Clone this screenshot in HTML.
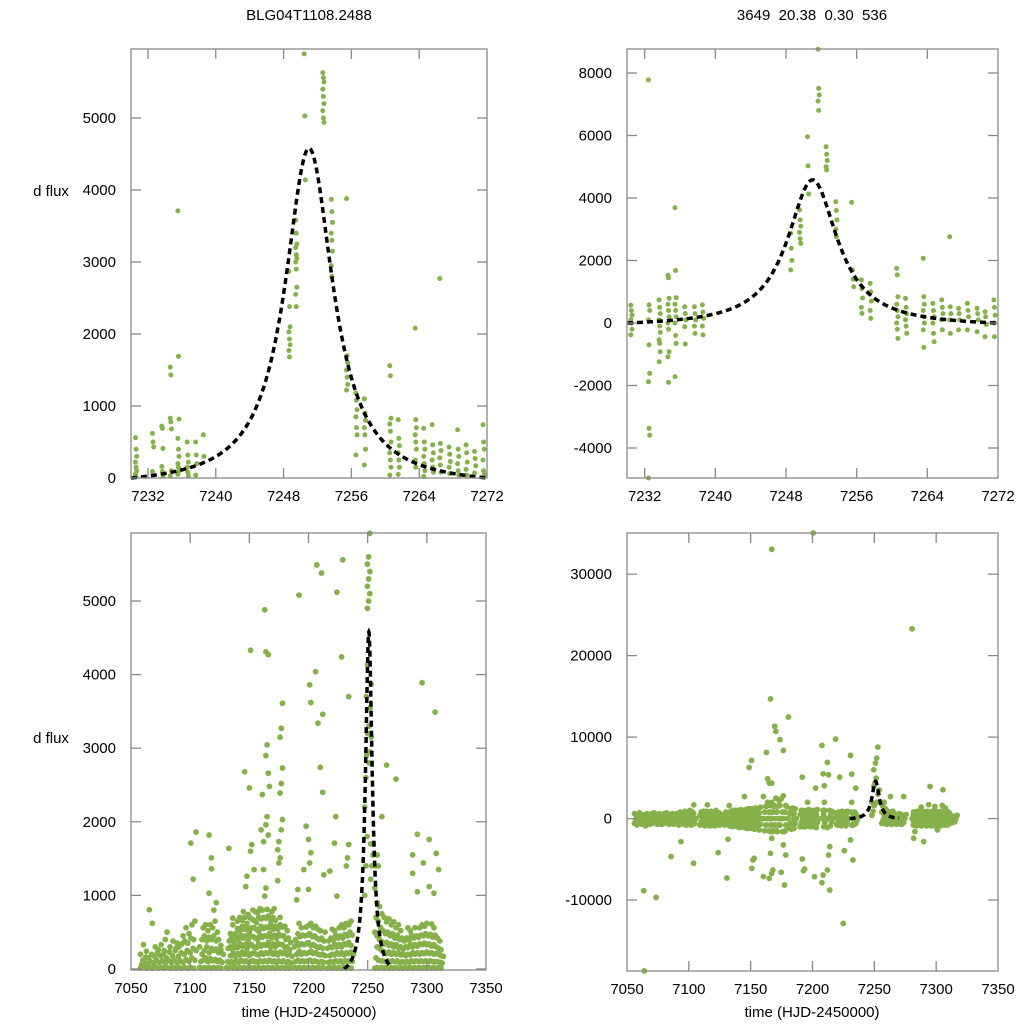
<!DOCTYPE html>
<html><head><meta charset="utf-8"><style>
html,body{margin:0;padding:0;background:#fff;}
svg{display:block;font-family:"Liberation Sans",sans-serif;}
</style></head><body>
<svg id="chart" width="1024" height="1024" viewBox="0 0 1024 1024" xmlns="http://www.w3.org/2000/svg">
<rect width="1024" height="1024" fill="#fff"/>
<text x="309" y="20" font-size="15" text-anchor="middle">BLG04T1108.2488</text>
<text x="812" y="20" font-size="15" text-anchor="middle" xml:space="preserve">3649  20.38  0.30  536</text>
<text x="51" y="196" font-size="15" text-anchor="middle">d flux</text>
<text x="51" y="743" font-size="15" text-anchor="middle">d flux</text>
<text x="309" y="1017" font-size="15" text-anchor="middle">time (HJD-2450000)</text>
<text x="812" y="1017" font-size="15" text-anchor="middle">time (HJD-2450000)</text>
</svg>
<script>
// ---- model parameters ----
const modelPeak = 4580;
const modelT0 = 7251;
const modelHwhm = 3.45;

// ---- top-left panel data (zoom) ----
const tlTimes = [7230.6,7232.6,7233.7,7234.7,7235.6,7236.7,7237.7,7238.6,7248.7,7249.5,7250.5,7252.7,7253.7,7255.5,7256.6,7257.6,7260.6,7261.6,7263.6,7264.6,7265.6,7266.5,7267.6,7268.6,7269.6,7270.6,7271.6];
const tlFlux = [
 [560,400,300,220,150,100,50,20],[620,500,430,90],[720,690,410,160,90,30],[830,780,680,1540,1430,100,30],
 [3710,1690,820,550,400,300,200,150,100,50],[500,320,220,150,80,30],[500,320,200,40],[600,300],
 [2870,2380,2100,2030,1930,1850,1770,1680],[3580,3400,3250,3200,3100,3050,3000,2900,2650,2550,2380],
 [5890,5030,4140],[5630,5560,5500,5400,5300,5200,5100,5000,4940],[3870,3700,3550,3400,3300,3150,2950,2800],
 [3880,1700,1600,1500,1400,1300,1220],[1180,1080,950,850,700,600,320],[1100,900,800,700,600,400,180],
 [1560,1420,830,750,650,500,350,250,150,40],[810,550,450,350,250,150,50],[2080,810,700,600,500,400,250,150],
 [690,500,400,300,200,100,20],[740,460,350,250,150,80],[2770,480,380,280,180,80],[430,330,230,150,60],
 [670,400,300,200,100,40],[460,350,220,120,40],[370,270,170,70],[740,500,400,250,100,50]
];
// ---- top-right panel data (zoom) ----
const trTimes = [7230.5,7232.5,7233.7,7234.7,7235.5,7236.6,7237.7,7238.6,7248.6,7249.6,7250.5,7251.7,7252.6,7253.7,7255.5,7255.6,7256.6,7257.6,7260.6,7261.6,7263.6,7264.7,7265.7,7266.6,7267.6,7268.6,7269.7,7270.6,7271.6];
const trFlux = [
 [570,400,250,100,0,-200,-380],[7780,580,400,100,-700,-1610,-1880,-3370,-3590,-4970],
 [740,500,300,100,-100,-300,-540,-650,-920,-1240],[1530,1450,790,600,400,200,0,-200,-920,-1080,-1900],
 [3690,1680,810,600,400,200,0,-400,-650,-1720],[520,300,100,-120,-670],[520,300,100,-100,-330],[580,350,150,-100,-380],
 [2870,2390,2000,1700],[3620,3300,3100,2900,2700,2550],[5960,5030,4130],[8760,7510,7300,7100,6800],
 [5640,5400,5200,5000,4900],[3880,3600,3300,3000,2760],[3860],[1700,1400,1160],[1380,1100,800,500,310],
 [1270,1000,700,400,150],[1750,1540,840,600,400,200,0,-200,-490],[790,500,300,100,-100,-330],
 [2070,840,600,400,200,0,-220,-780],[630,400,200,0,-330,-600],[740,500,300,100,-220],[2760,520,300,100,-330],
 [470,300,100,-220],[630,400,200,-220],[470,300,100,-280],[360,200,-50,-440],[740,500,250,0,-440]
];
// ---- bottom-left panel data (full season) ----
const blTimes = [7059,7061.5,7064,7066.5,7069,7071.5,7074,7076.5,7079,7081.5,7084,7086.5,7089,7091.5,7094,7096.5,7099,7101.5,7104,
 7109,7111,7113,7115,7117,7119,7121,7123,7125,7127,7131.7,
 7133,7135,7137,7139,7141,7143,7145,7147,7149,7151,7153,7155,7157,7159,7161,7163,7165,7167,7169,7171,7173,7175,7177,7179,7181,7183,7185,
 7189,7191,7193,7195,7197,7199,7201,7203,7205,7207,7209,7211,7213,
 7217,7219,7221,7223,7225,7227,7229,7231,7233,7235,7237,
 7248.5,7250,7250.8,7252,7253.5,
 7257,7259,7261,7263,7265,7267,7269,7271,7273,7275,7277,7279,7281,
 7283,7285,7287,7289,7291,7293,7295,7297,7299,7301,7303,7305,7307,7309,7311,7313];
const blFlux = [
 [10,60,120,200],[20,90,160,330],[10,70,150,240],[20,100,200,805],[10,80,170,620],[30,120,220,300],[10,90,180,260],
 [20,110,200,330],[10,80,150,250,400],[20,120,230,500],[10,90,180,300],[20,120,250,380],[10,80,170,280,350],
 [20,110,220,300],[10,90,200,340,450],[20,130,250,380,560],[10,100,220,350,480],[20,150,280,420,600,1220,1710],
 [10,120,250,400,650,1860],
 [20,100,200,300],[10,120,250,400,560],[20,150,300,450,600],[10,100,220,380,520,1030],[20,140,280,430,600,1360,1820],
 [10,110,250,400,560,800,1510],[20,130,270,450,650,900],[10,100,220,380,500],[20,120,260,400],[10,90,200,320],[20,100,1640],
 [10,90,180,280,380,480],[20,100,200,300,420,690],[10,80,170,260,360,480,600],[20,110,210,320,430,550],
 [10,90,190,290,400,520,650],[20,120,230,340,460,580,700],[10,100,200,310,420,540,660,780,2680],
 [20,110,220,330,450,560,700,1120,1260],[10,90,180,280,380,500,620,740],[20,100,210,320,440,560,700,1600,1690,2460,4330],
 [10,110,220,330,440,560,680,800,1350],[20,100,200,300,420,540,660,780],[10,90,190,290,400,510,630,760],
 [20,110,220,340,460,580,700,820],[10,100,200,310,430,550,680,800,1730,1890,2370],[20,110,220,330,450,570,700,990,1100,1350,4880],
 [10,100,210,320,440,560,690,810,1820,1960,2070,2660,2900,3045,4270,4310],[20,120,240,360,480,600,720,2480],
 [10,100,200,300,420,540,660,780],[20,110,220,340,460,580,700,820],[10,90,190,300,420,540,660],
 [20,110,230,350,470,600,1200,1440,1510,1620,1730],[10,100,210,330,450,570,700,1890,2030,2390,2520,2730,3150,3270,3610],
 [20,110,220,330,450,580],[10,90,190,290,400,520],[20,100,200,300,420],[10,80,170,260,360],
 [20,100,200,300,400],[10,120,240,360,480,620,940,1080],[20,100,200,320,440,560,5080],[10,110,220,340,460,1350],
 [20,100,210,330,450,570],[10,110,220,340,460,590,1940],[20,120,240,360,480,620,1080,1440,1580,1760,3860],
 [10,100,210,320,440,560,3620],[20,110,220,330,450,580],[10,100,200,310,420,540,4040,5490,3340],
 [20,90,190,290,400,520],[10,100,200,300,420,3460,2740,5380],[20,90,180,280,380,500,2400,1280],
 [10,90,180,280,380,1330],[20,100,200,300,420,540],[10,90,190,290,400,520],[20,110,220,340,460,990,1710,2070,5120],
 [10,100,200,300,420,560],[20,110,220,330,450,600],[10,90,190,300,420,560,4240,5560],[20,110,220,340,470,620],
 [10,100,210,330,450,600,1400,1510,1690],[20,110,230,360,500,650,3700],[10,100,200,320,460],
 [1000,1400,1800,2200,2600],[2900,3200,3300,3700,4130],[4900,5000,5100,5200,5300,5400,5500,5600,5920],[2800,2950,3150,3300,3550,3870],[1220,1400,1550,1700],
 [10,150,300,500,700,900,1100,1400,1550],[20,120,280,450,650,850,1550,1400],[10,110,250,400,560,750],[20,110,230,370,520,700,2070],
 [10,100,210,340,480,640],[20,110,230,360,500,680,2770],[10,100,200,320,450,600],[20,110,220,340,480,640],
 [10,100,200,300,420,560],[20,110,220,330,460,600,2580],[10,90,190,290,400,520],[20,100,200,300,420],[10,90,180,270,380],
 [20,100,200,300,420,560],[10,90,190,290,400,520],[20,110,220,340,460,1300],[10,100,200,300,420,560,1550],[20,110,220,330,450,1050],
 [10,100,200,310,430,560,1830],[20,110,220,340,460,600],[10,100,210,330,450,580,3890,1440],[20,110,230,350,480,620],
 [10,100,210,330,450,1120],[20,110,220,340,470,610,1760],[10,100,200,310,430,560],[20,100,210,330,460,1570,1030,3490],
 [10,100,200,300,420,1350],[20,90,180,280,380],[10,80,170,260]
];
// ---- bottom-right panel data (full season) ----
const brTimes = [7057,7059,7061,7063,7064.5,7065,7067,7069,7071,7073,7074.5,7077,7079,7081,7083,7085,7086.6,7089,7091,7093,7094.6,7097,7099,7101,7103,7104.8,
 7110,7112,7114,7116,7118,7120,7122,7124.7,7127,
 7130,7131.7,7134,7136,7138,7140,7142,7144,7146,7148,7149.7,7151.9,7154,7156,7158,7161.3,7163.7,7166,7167,7168,7170.4,7172,7174.7,7177.4,7179,7181.5,7184,7186,
 7191,7192.7,7195,7197,7199,7201.6,7202,7204,7208.6,7213,7210,7215.5,
 7219.6,7221,7223,7225.8,7228,7231.7,7234,7236,
 7249,7250.5,7251.9,7253,
 7257,7259,7261,7263,7265,7267,7269,7271,7273,7274.7,
 7281.5,7282.8,7285,7287,7289,7290.9,7293,7295,7296,7298,7300,7302,7304,7306.5,7308,7310,7312,7314,7316];
const brFlux = [
 [-600,-200,200,600],[-800,-400,0,400],[-500,-100,300,700],[-700,-300,100,500],[-8860],[-18700,-900,-400,0,400],
 [-600,-200,200,600],[-700,-300,100,500],[-600,-200,200,600],[-500,-100,300,700],[-9680,-700,-300,100],[-600,-200,200,600],
 [-700,-300,100,500],[-600,-200,200,600],[-500,-100,300,700],[-700,-300,100,500],[-4670,-600,-200,200,600],
 [-700,-300,100,500],[-600,-200,200,600],[-800,-400,0,400,800],[-2830,-600,-200,200,600],[-700,-300,100,500,900],
 [-800,-400,0,400,800],[-700,-300,100,500,1000],[-800,-400,0,400,800,1680],[-5490,-600,0,600],
 [-800,-400,0,400,800],[-700,-300,100,500,900],[-900,-400,0,400,900,1680],[-800,-400,0,400,800],[-900,-500,0,500,900],
 [-800,-400,0,400,800],[-900,-400,100,500,1000],[-4180,-800,-300,200,700],[-700,-300,100,500],
 [-800,-400,0,400,800],[-7300,-2540,1600],[-900,-500,0,500,900],[-1000,-500,0,500,1000],[-900,-400,100,600,1000],
 [-1000,-500,0,500,1000],[-1100,-600,0,500,1100],[-1000,-500,0,500,1000,2700],[-1100,-500,0,600,1100],[-1200,-600,0,600,1200],
 [-1200,-600,0,600,1200,7130,6270],[-6110,-5080,-4880,-1200,-600,0,600,1200],[-1300,-700,0,700,1300],[-1200,-600,0,600,1200],
 [-1400,-700,0,700,1400],[-7130,-1500,-800,0,800,1500,2700],[8120,4880,-1500,-800,0,800,1500,2000],[-7340,-1600,-800,0,800,1600,4350],
 [14680,-6720,-6310,-4260,-2420,-1600,-800,0,800,1600,4350],[33050,-1500,-800,0,800,1500,2000],[11320,10700,-1600,-800,0,800,1600,2500],
 [-1500,-800,0,800,1500,2200],[9680,-6600,-1600,-800,0,800,1600,2400],[8360,-8160,-4470,-3240,-1600,-800,0,800,1600,2800],
 [-1500,-800,0,800,1500],[12460,-1200,-600,0,600,1200],[-1300,-600,0,600,1300],[-1200,-600,0,600,1200],
 [-1000,-500,0,500,1000],[5080,-6400,-6190,-4960,-1000,0,1000],[-1000,-500,0,500,1000,2000],[-900,-400,100,600,1100],
 [-1000,-500,0,500,1000],[35500,-7130,-1000,0,1000,3730],[-1000,-500,0,500,1000],[-1100,-500,0,500,1100],
 [8980,5490,4020,-7870,-6930,-1000,0,1000,2000],[6890,5370,-8770,-6310,-4470,-3440,-1100,0,1000],[-1000,-500,0,500,1000],
 [-900,-400,0,400,900],[9760,-700,0,700],[-800,-400,0,400,800],[5080,-900,-400,0,400,900],[-12870,-3940,-800,-400,0,400,800],
 [-900,-400,0,400,900],[7750,5450,-5080,-2620,-800,0,800,2000],[-800,-400,0,400,800,3730],[-600,-200,200,600],
 [400,900,1600,2000],[3940,4350,4960,5990],[6800,7420,8770],[2000,3000,3500],
 [-600,-200,300,800,1500,2000],[-600,-200,200,700,1200],[-700,-300,100,500,900],[-600,-200,200,600,2700],
 [-700,-300,100,500,900],[-600,-200,200,600],[-700,-300,100,500],[-600,-200,200,600],[-700,-300,100,500],[-500,0,500,2700],
 [23290,-800,-400,0,400,800],[-2420,-1600,-800,-400,0,400,800],[-900,-400,0,400,900],[-800,-400,0,400,800,1400],
 [-900,-500,0,500,900],[-2830,-800,-400,0,400,800],[-900,-400,0,400,900,1700],[-800,-400,0,400,800],[3940,-900,-400,0,400,900],
 [-800,-400,0,400,800,1500],[-900,-400,0,400,900],[-1390,-800,-400,0,400,800],[-900,-400,0,400,900,1600],[3530,-800,-300,200,700,1300],
 [-700,-300,100,500],[-800,-400,0,400,800],[-600,-200,200,600],[-500,-100,300],[-400,0,400]
];
// ---- tick labels ----
const xTicksZoom = [7232,7240,7248,7256,7264,7272];
const xTicksFull = [7050,7100,7150,7200,7250,7300,7350];
const yTicksTL = [0,1000,2000,3000,4000,5000];
const yTicksTR = [-4000,-2000,0,2000,4000,6000,8000];
const yTicksBL = [0,1000,2000,3000,4000,5000];
const yTicksBR = [-10000,0,10000,20000,30000];

const NS = 'http://www.w3.org/2000/svg';
const svg = document.getElementById('chart');
function mk(tag, attrs, parent){
  const e = document.createElementNS(NS, tag);
  for (const k in attrs) e.setAttribute(k, attrs[k]);
  (parent||svg).appendChild(e);
  return e;
}
function model(t){
  const base = 1/(1+Math.pow(21/modelHwhm,2));
  const l = 1/(1+Math.pow((t-modelT0)/modelHwhm,2));
  return modelPeak*Math.max(0,(l-base)/(1-base));
}

function panel(cfg){
  const g = mk('g', {});
  
  
  const X = t => cfg.x0 + (t-cfg.xmin)/(cfg.xmax-cfg.xmin)*(cfg.x1-cfg.x0);
  const Y = v => cfg.y1 - (v-cfg.ymin)/(cfg.ymax-cfg.ymin)*(cfg.y1-cfg.y0);
  const pg = mk('g', {fill:'#86b04a'}, g);
  
  
  const n = Math.min(cfg.times.length, cfg.flux.length);
  for (let i=0;i<n;i++){
    const t = cfg.times[i];
    cfg.flux[i].forEach((v,j)=>{
      let y = Y(v);
      y = Math.min(cfg.y1, Math.max(cfg.y0, y));
      const c = mk('circle', {cx:X(t)+((j%3)-1)*cfg.jit, cy:y, r:cfg.r}, pg);
      
      
    });
  }
  let d = '';
  for (let t=cfg.c0; t<=cfg.c1+1e-6; t+=0.1){
    d += (d?'L':'M') + X(t).toFixed(2) + ',' + Y(model(t)).toFixed(2);
  }
  const p = mk('path', {d:d, fill:'none', stroke:'#000', 'stroke-width':3.5, 'stroke-dasharray':'6 4'}, g);
  
  
  const f = mk('rect', {x:cfg.x0, y:cfg.y0, width:cfg.x1-cfg.x0, height:cfg.y1-cfg.y0, fill:'none', stroke:'#888', 'stroke-width':1.3}, g);
  
  
  cfg.xt.forEach(t=>{
    const x = X(t);
    if (x > cfg.x0+1 && x < cfg.x1-1){
      mk('line', {x1:x, x2:x, y1:cfg.y1, y2:cfg.y1-10, stroke:'#888', 'stroke-width':1.3}, g);
      mk('line', {x1:x, x2:x, y1:cfg.y0, y2:cfg.y0+10, stroke:'#888', 'stroke-width':1.3}, g);
    }
    const tx = mk('text', {x:x, y:cfg.y1+23, 'font-size':15, 'text-anchor':'middle'}, g);
    tx.textContent = t;
    
    
  });
  cfg.yt.forEach(v=>{
    const y = Y(v);
    if (y > cfg.y0+1 && y < cfg.y1-1){
      mk('line', {x1:cfg.x0, x2:cfg.x0+10, y1:y, y2:y, stroke:'#888', 'stroke-width':1.3}, g);
      mk('line', {x1:cfg.x1, x2:cfg.x1-10, y1:y, y2:y, stroke:'#888', 'stroke-width':1.3}, g);
    }
    const ty = mk('text', {x:cfg.x0-15, y:y+5, 'font-size':15, 'text-anchor':'end'}, g);
    ty.textContent = v;
    
    
  });
}

panel({name:'panel-top-left', x0:131, x1:487, y0:49, y1:478, xmin:7230, xmax:7272, ymin:0, ymax:5958,
  times:tlTimes, flux:tlFlux, xt:xTicksZoom, yt:yTicksTL, c0:7230, c1:7272, jit:0.6, r:2.5});
panel({name:'panel-top-right', x0:627, x1:998, y0:49, y1:478, xmin:7230, xmax:7272, ymin:-4960, ymax:8768,
  times:trTimes, flux:trFlux, xt:xTicksZoom, yt:yTicksTR, c0:7230, c1:7272, jit:0.6, r:2.5});
panel({name:'panel-bottom-left', x0:131, x1:486, y0:533, y1:970, xmin:7050, xmax:7350, ymin:-14, ymax:5924,
  times:blTimes, flux:blFlux, xt:xTicksFull, yt:yTicksBL, c0:7230, c1:7270, jit:1.2, r:2.9});
panel({name:'panel-bottom-right', x0:627, x1:998, y0:533, y1:971, xmin:7050, xmax:7350, ymin:-18710, ymax:35050,
  times:brTimes, flux:brFlux, xt:xTicksFull, yt:yTicksBR, c0:7230, c1:7270, jit:1.2, r:2.9});
</script>
</body></html>
